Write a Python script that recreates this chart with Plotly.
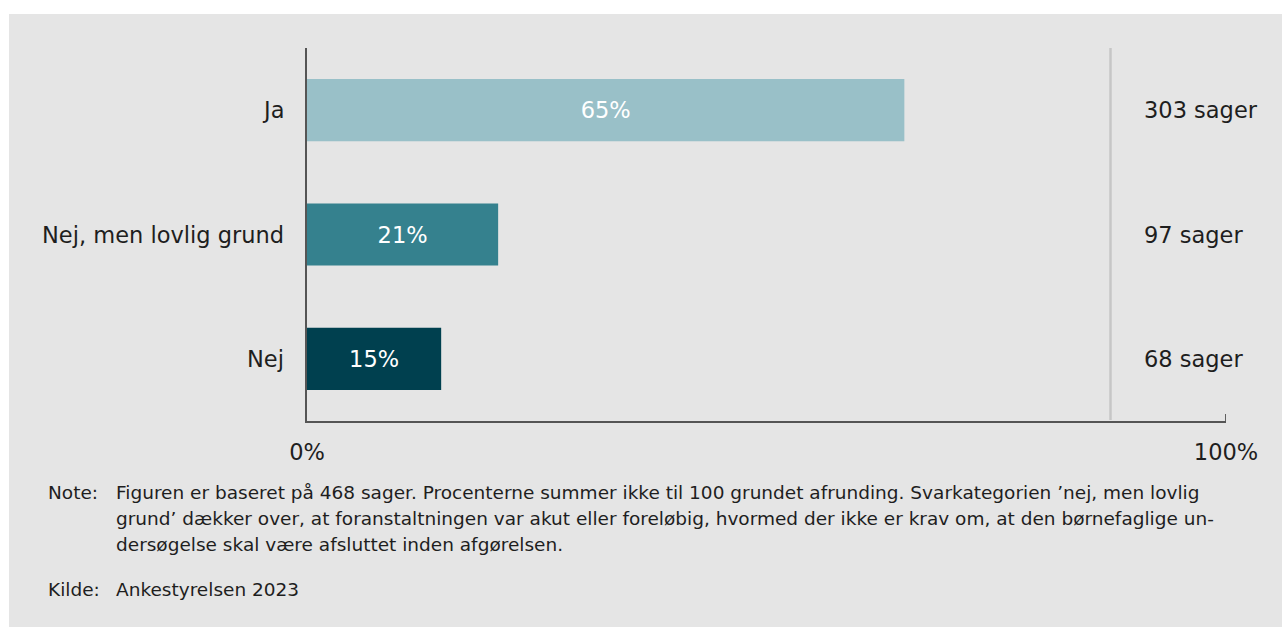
import plotly.graph_objects as go

categories = ["Ja", "Nej, men lovlig grund", "Nej"]
shares = [65.0, 20.8, 14.6]
bar_labels = ["65%", "21%", "15%"]
case_labels = ["303 sager", "97 sager", "68 sager"]
colors = ["#99c0c8", "#35818e", "#00404f"]
x_ticks = [0, 100]
x_tick_labels = ["0%", "100%"]
note_lines = [
    "Figuren er baseret på 468 sager. Procenterne summer ikke til 100 grundet afrunding. Svarkategorien ’nej, men lovlig",
    "grund’ dækker over, at foranstaltningen var akut eller foreløbig, hvormed der ikke er krav om, at den børnefaglige un-",
    "dersøgelse skal være afsluttet inden afgørelsen.",
]
source_text = "Ankestyrelsen 2023"

FONT = "Verdana, DejaVu Sans, sans-serif"
W, H = 1282, 627
L, R, T, B = 307, 1226, 48, 421
pw, ph = R - L, B - T
LABEL_SIZE = 22.5
NOTE_SIZE = 18.5
TXT = "#1e1e1e"


def px_x(px):
    return (px - L) / pw


def px_y(py):
    return (B - py) / ph


fig = go.Figure()
fig.add_trace(go.Bar(
    y=categories, x=shares, orientation="h",
    marker=dict(color=colors, line=dict(width=0)),
    width=0.5,
    text=bar_labels, textposition="inside", insidetextanchor="middle",
    textfont=dict(color="white", size=LABEL_SIZE, family=FONT),
    hoverinfo="skip",
))

shapes = [
    dict(type="rect", xref="paper", yref="paper",
         x0=px_x(9), x1=px_x(W + 5), y0=px_y(14), y1=px_y(H + 5),
         fillcolor="#e5e5e5", line=dict(width=0), layer="below"),
    dict(type="line", xref="paper", yref="paper",
         x0=px_x(1110.5), x1=px_x(1110.5), y0=0.003, y1=1,
         line=dict(color="#c6c6c6", width=2.5), layer="above"),
    # tick mark at the right end of the x axis
    dict(type="line", xref="x", yref="paper",
         x0=x_ticks[-1], x1=x_ticks[-1], y0=0, y1=px_y(414),
         line=dict(color="#333333", width=1.5), layer="above"),
]

annotations = []
for c in categories:
    annotations.append(dict(x=px_x(286), y=c, xref="paper", yref="y",
                            text=c, showarrow=False, xanchor="right", yanchor="middle",
                            font=dict(size=LABEL_SIZE, color=TXT, family=FONT)))
for c, t in zip(categories, case_labels):
    annotations.append(dict(x=px_x(1142), y=c, xref="paper", yref="y",
                            text=t, showarrow=False, xanchor="left", yanchor="middle",
                            font=dict(size=LABEL_SIZE, color=TXT, family=FONT)))

note_y = [493, 518.5, 544]
annotations.append(dict(x=px_x(46), y=px_y(note_y[0]), xref="paper", yref="paper",
                        text="Note:", showarrow=False, xanchor="left", yanchor="middle",
                        font=dict(size=NOTE_SIZE, color=TXT, family=FONT)))
for line, yy in zip(note_lines, note_y):
    annotations.append(dict(x=px_x(114), y=px_y(yy), xref="paper", yref="paper",
                            text=line, showarrow=False, xanchor="left", yanchor="middle",
                            font=dict(size=NOTE_SIZE, color=TXT, family=FONT)))
annotations.append(dict(x=px_x(46), y=px_y(589), xref="paper", yref="paper",
                        text="Kilde:", showarrow=False, xanchor="left", yanchor="middle",
                        font=dict(size=NOTE_SIZE, color=TXT, family=FONT)))
annotations.append(dict(x=px_x(114), y=px_y(589), xref="paper", yref="paper",
                        text=source_text, showarrow=False, xanchor="left", yanchor="middle",
                        font=dict(size=NOTE_SIZE, color=TXT, family=FONT)))

fig.update_layout(
    width=W, height=H,
    margin=dict(l=L, r=W - R, t=T, b=H - B, pad=0),
    paper_bgcolor="white", plot_bgcolor="rgba(0,0,0,0)",
    showlegend=False,
    bargap=0.5,
    shapes=shapes, annotations=annotations,
    font=dict(family=FONT, color=TXT),
    xaxis=dict(range=[0, 100], tickvals=x_ticks, ticktext=x_tick_labels,
               showgrid=False, zeroline=False, showline=True,
               linecolor="#555555", linewidth=2,
               ticks="",
               tickfont=dict(size=LABEL_SIZE, color=TXT, family=FONT),
               ticklabelstandoff=10, fixedrange=True),
    yaxis=dict(categoryorder="array", categoryarray=categories[::-1],
               range=[-0.5, 2.5], showticklabels=False,
               showgrid=False, zeroline=False, showline=True,
               linecolor="#555555", linewidth=2, ticks="", fixedrange=True),
)

fig.write_html("out.html", config={"displayModeBar": False},
               post_script="document.body.style.margin='0px';")
